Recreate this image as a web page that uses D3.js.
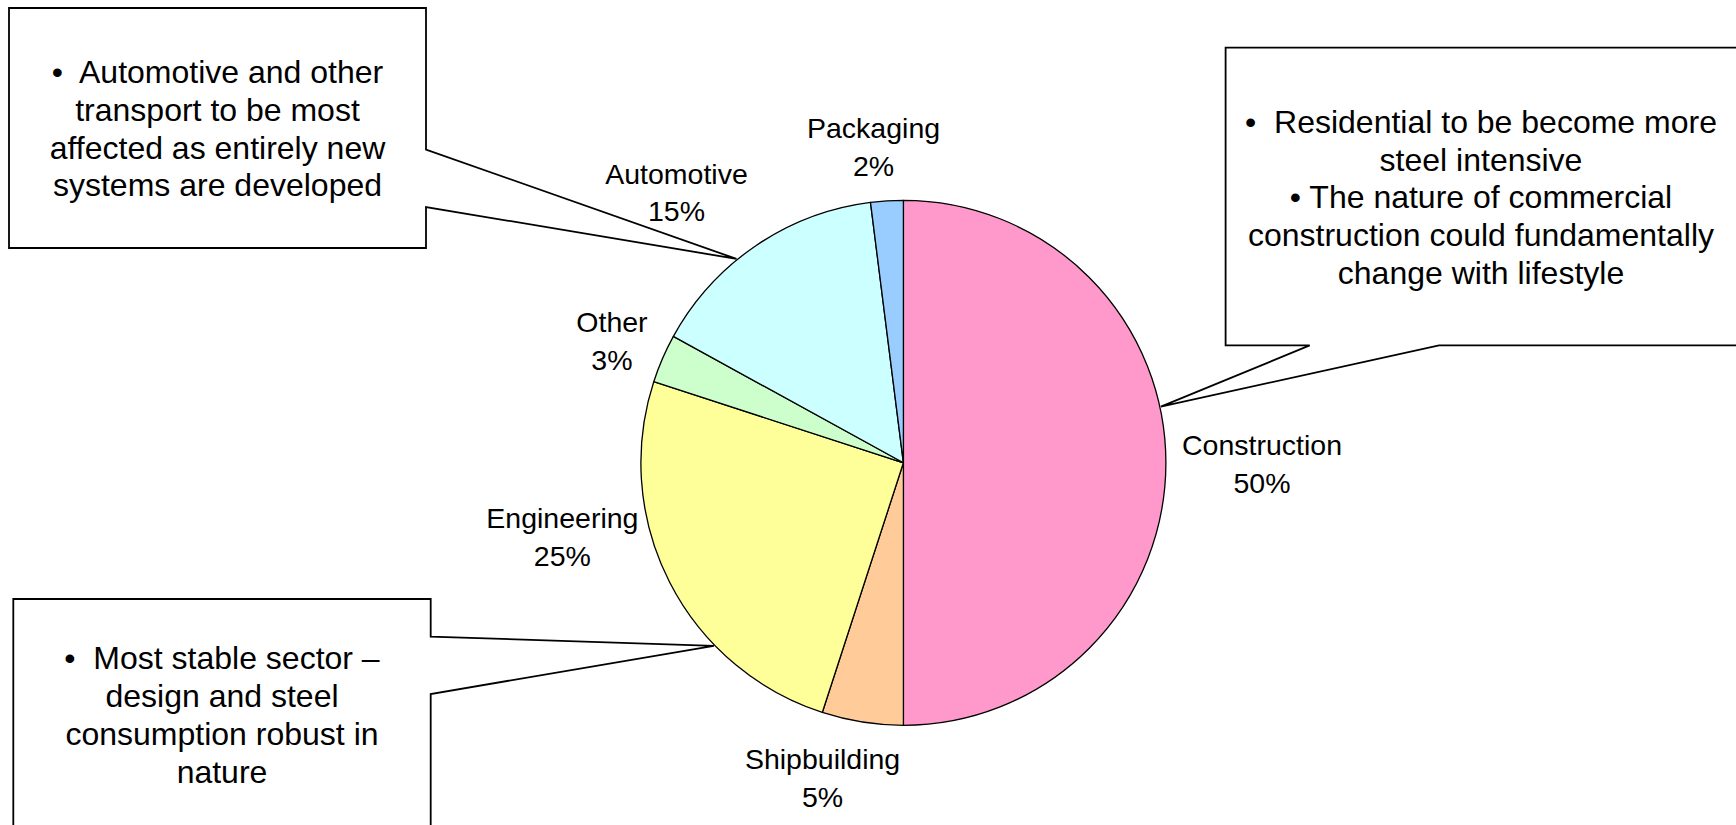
<!DOCTYPE html>
<html>
<head>
<meta charset="utf-8">
<script src="https://cdn.jsdelivr.net/npm/d3@7"></script>
<style>
  html, body { margin: 0; padding: 0; background: #fff; overflow: hidden; }
  svg { display: block; }
  text { font-family: "Liberation Sans", Arial, sans-serif; fill: #000; }
</style>
</head>
<body>
<svg id="chart" width="1736" height="825"></svg>
<script>
// Steel consumption by end-use sector
const categories = ["Construction", "Shipbuilding", "Engineering", "Other", "Automotive", "Packaging"];
const shares = [50, 5, 25, 3, 15, 2];
const sliceColors = ["#FF99CC", "#FFCC99", "#FFFF99", "#CCFFCC", "#CCFFFF", "#99CCFF"];

// Commentary boxes
const noteLines = [
  ["\u2022  Automotive and other", "transport to be most", "affected as entirely new", "systems are developed"],
  ["\u2022  Residential to be become more", "steel intensive", "\u2022 The nature of commercial", "construction could fundamentally", "change with lifestyle"],
  ["\u2022  Most stable sector \u2013", "design and steel", "consumption robust in", "nature"]
];
const noteSector = ["Automotive", "Construction", "Engineering"];

const W = 1736, H = 825;
const cx = 903.4, cy = 462.8, R = 262.5;
const svg = d3.select("#chart");

const pie = d3.pie().sort(null).value(d => d)(shares);
const arc = d3.arc().innerRadius(0).outerRadius(R);
const labelArc = d3.arc().innerRadius(318).outerRadius(318);

const g = svg.append("g").attr("transform", `translate(${cx},${cy})`);

g.selectAll("path.slice")
  .data(pie)
  .join("path")
  .attr("class", "slice")
  .attr("d", arc)
  .attr("fill", (d, i) => sliceColors[i])
  .attr("stroke", "#000")
  .attr("stroke-width", 1.3)
  .attr("stroke-linejoin", "round");

// Label placement nudges away from the mid-angle anchor
const labelNudge = [[40.6, 1.2], [-31.1, 0.9], [-57.7, -70.2], [0.4, 4.5], [-48.2, -7.2], [-9.9, 1.6]];
const labelSize = 28.5, labelGap = 37.6;

const labels = g.selectAll("g.lab")
  .data(pie)
  .join("g")
  .attr("class", "lab")
  .attr("transform", (d, i) => {
    const [x, y] = labelArc.centroid(d);
    return `translate(${x + labelNudge[i][0]},${y + labelNudge[i][1]})`;
  });
labels.append("text")
  .attr("text-anchor", "middle")
  .attr("font-size", labelSize)
  .attr("y", -labelGap / 2)
  .attr("dy", "0.35em")
  .text((d, i) => categories[i]);
labels.append("text")
  .attr("text-anchor", "middle")
  .attr("font-size", labelSize)
  .attr("y", labelGap / 2)
  .attr("dy", "0.35em")
  .text(d => d.value + "%");

// Callout geometry: box, side the pointer leaves from, pointer base span, angle on the pie rim
const callouts = [
  { x0: 9, y0: 8, x1: 426, y1: 248, side: "right", b0: 149.5, b1: 207, angle: 320.7, textY: 72, gap: 37.7 },
  { x0: 1225.6, y0: 47.6, x1: 1740, y1: 345.4, side: "bottom", b0: 1309.7, b1: 1439, angle: 77.7, textY: 121.8, gap: 37.65, textX: 1481 },
  { x0: 13.3, y0: 599, x1: 430.7, y1: 832, side: "right", b0: 636.6, b1: 694, angle: 226, textY: 657.6, gap: 38 }
];

callouts.forEach((c, k) => {
  const idx = categories.indexOf(noteSector[k]);
  const s = pie[idx];
  const a = c.angle * Math.PI / 180;
  // keep the pointer tip inside its own sector
  const aa = Math.max(s.startAngle, Math.min(s.endAngle, a));
  const tip = d3.pointRadial(aa, R + 1);
  const tx = cx + tip[0], ty = cy + tip[1];
  let pts;
  if (c.side === "right") {
    pts = [[c.x0, c.y0], [c.x1, c.y0], [c.x1, c.b0], [tx, ty], [c.x1, c.b1], [c.x1, c.y1], [c.x0, c.y1]];
  } else {
    pts = [[c.x0, c.y0], [c.x1, c.y0], [c.x1, c.y1], [c.b1, c.y1], [tx, ty], [c.b0, c.y1], [c.x0, c.y1]];
  }
  svg.append("path")
    .attr("d", d3.line()(pts) + "Z")
    .attr("fill", "#fff")
    .attr("stroke", "#000")
    .attr("stroke-width", 1.8)
    .attr("stroke-linejoin", "miter");
  const mx = c.textX !== undefined ? c.textX : (c.x0 + c.x1) / 2;
  svg.append("g").selectAll("text")
    .data(noteLines[k])
    .join("text")
    .attr("x", mx)
    .attr("y", (d, i) => c.textY + i * c.gap)
    .attr("dy", "0.35em")
    .attr("text-anchor", "middle")
    .attr("font-size", 32)
    .style("white-space", "pre")
    .attr("xml:space", "preserve")
    .text(d => d);
});
</script>
</body>
</html>
